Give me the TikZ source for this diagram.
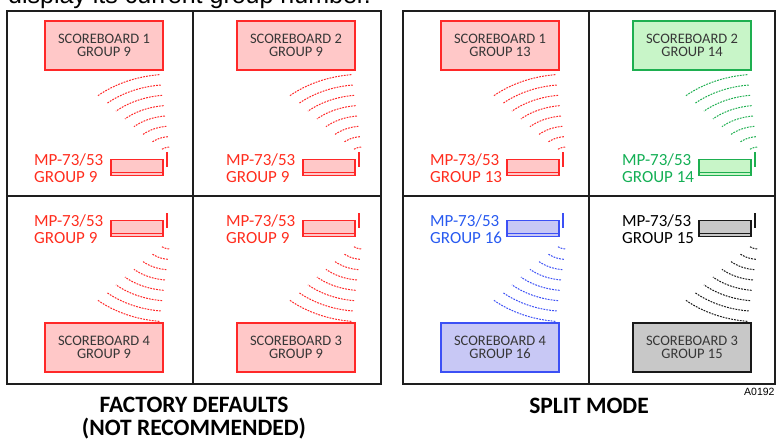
\documentclass[tikz,border=0pt]{standalone}
\usepackage{fontspec}
\setmainfont{Carlito}
\newfontfamily\arialfont{Liberation Sans}
\usepackage{tikz}

\definecolor{redline}{RGB}{255,40,40}
\definecolor{redfill}{RGB}{255,200,200}
\definecolor{redtext}{RGB}{255,45,30}
\definecolor{greenline}{RGB}{30,175,80}
\definecolor{greenfill}{RGB}{200,245,200}
\definecolor{greentext}{RGB}{20,175,85}
\definecolor{blueline}{RGB}{60,80,245}
\definecolor{bluefill}{RGB}{200,200,245}
\definecolor{bluetext}{RGB}{40,90,240}
\definecolor{blackline}{RGB}{25,25,25}
\definecolor{blackfill}{RGB}{200,200,200}
\definecolor{blacktext}{RGB}{0,0,0}
\definecolor{boardtext}{RGB}{55,55,55}
\definecolor{framegray}{RGB}{30,30,30}

\begin{document}
\begin{tikzpicture}[x=1pt,y=-1pt,
    frame/.style={draw=framegray,line width=1.8},
    board/.style={draw=#1line,fill=#1fill,line width=1.8,minimum width=118,minimum height=49,
      inner sep=0,align=center,text=boardtext,font=\fontsize{14.5}{13}\selectfont},
    unitbox/.style={draw=#1line,fill=#1fill,line width=1.4,minimum width=52,minimum height=16,inner sep=0},
    unitlabel/.style={text=#1text,align=left,inner sep=0,font=\fontsize{17}{17}\selectfont},
    signal/.style={draw=#1line,line width=1,dash pattern=on 1.8pt off 1.1pt},
    title/.style={align=center,inner sep=0,font=\bfseries\fontsize{23.5}{23}\selectfont}]
  \useasboundingbox (0,0) rectangle (776,447);

  % cut-off caption line above
  \node[anchor=base west,inner sep=0,font=\arialfont\fontsize{25}{25}\selectfont] (caption) at (8,3.5)
    {display its current group number.};

  % Panels and dividers
  \draw[frame] (7,11) rectangle (381,384);
  \draw[frame] (193,11) -- (193,384);
  \draw[frame] (7,196) -- (381,196);
  \draw[frame] (403,11) rectangle (775,384);
  \draw[frame] (589,11) -- (589,384);
  \draw[frame] (403,196) -- (775,196);

  % One quadrant each: scoreboard, MP-73/53 unit and its signal
  \foreach \q/\dx/\sby/\dvy/\flip/\col/\sbn/\grp in {
      a/0/45.5/167.5/-1/red/1/9, b/192/45.5/167.5/-1/red/2/9,
      c/0/347.5/228.5/1/red/4/9, d/192/347.5/228.5/1/red/3/9,
      e/396/45.5/167.5/-1/red/1/13, f/588/45.5/167.5/-1/green/2/14,
      g/396/347.5/228.5/1/blue/4/16, h/588/347.5/228.5/1/black/3/15}{
    \node[board=\col] (sb\q) at (\dx+104,\sby) {SCOREBOARD \sbn\\GROUP \grp};
    \node[unitbox=\col] (unit\q) at (\dx+137,\dvy) {};
    \draw[draw=\col line,line width=1.2] ([yshift=4pt]unit\q.south west) -- ([yshift=4pt]unit\q.south east);
    \draw[draw=\col line,line width=1.6] ([xshift=3pt,yshift=6.5pt]unit\q.north east) -- ([xshift=3pt,yshift=-8.5pt]unit\q.north east);
    \node[unitlabel=\col,anchor=west] (lab\q) at (\dx+34,\dvy+1) {MP-73/53\\GROUP \grp};
    \coordinate (wave\q) at ([xshift=7pt,yshift={-9.5pt*\flip}]unit\q.east);
    \foreach \i in {0,...,7}
      \draw[signal=\col,shift={(wave\q)}] plot[domain=96:132,samples=14,variable=\t]
        ({1.3*(11+10.4*\i)*cos(\t)},{\flip*(11+10.4*\i)*sin(\t)});
  }

  % Titles below
  \node[title] (factory) at (194,418.5) {FACTORY DEFAULTS\\(NOT RECOMMENDED)};
  \node[title] (split) at (589,405.5) {SPLIT MODE};
  \node[anchor=north west,inner sep=0,font=\arialfont\fontsize{10.5}{10.5}\selectfont] (artno) at (744,387.5) {A0192};
\end{tikzpicture}
\end{document}
